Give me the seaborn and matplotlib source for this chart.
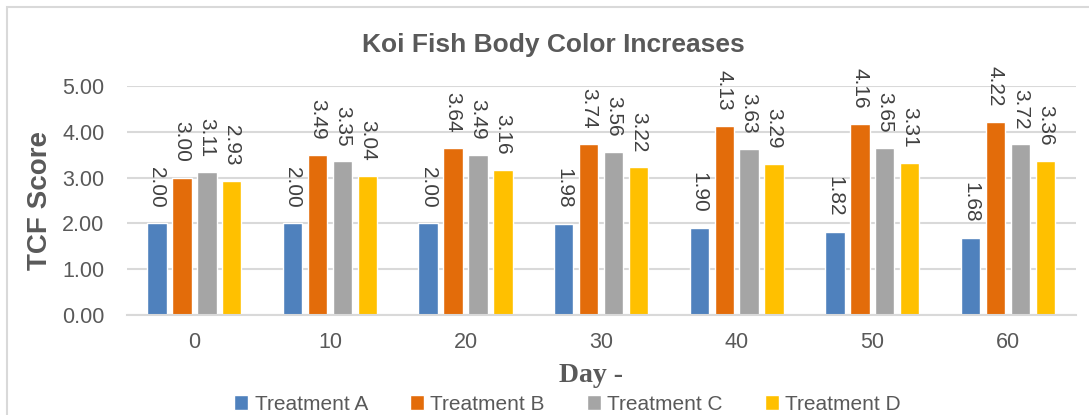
import matplotlib
matplotlib.use("Agg")
import matplotlib.pyplot as plt
from matplotlib.patches import Rectangle
import seaborn as sns
import pandas as pd

# chart data
days = ["0", "10", "20", "30", "40", "50", "60"]
treatments = ["Treatment A", "Treatment B", "Treatment C", "Treatment D"]
treatment_a = [2.00, 2.00, 2.00, 1.98, 1.90, 1.82, 1.68]
treatment_b = [3.00, 3.49, 3.64, 3.74, 4.13, 4.16, 4.22]
treatment_c = [3.11, 3.35, 3.49, 3.56, 3.63, 3.65, 3.72]
treatment_d = [2.93, 3.04, 3.16, 3.22, 3.29, 3.31, 3.36]
colors = ["#4F81BD", "#E36C0A", "#A5A5A5", "#FFC000"]

rows = []
for name, vals in zip(treatments, [treatment_a, treatment_b, treatment_c, treatment_d]):
    for d, v in zip(days, vals):
        rows.append({"Day": d, "Treatment": name, "TCF": v})
df = pd.DataFrame(rows)

sns.set_style("white")
plt.rcParams['font.family'] = ['Liberation Sans', 'DejaVu Sans']
text_grey = "#595959"
grid_grey = "#D9D9D9"

fig = plt.figure(figsize=(10.89, 4.15), dpi=100)
ax = fig.add_axes([0.1162, 0.2402, 0.8716, 0.5533])

sns.barplot(data=df, x="Day", y="TCF", hue="Treatment", order=days, hue_order=treatments,
            palette=colors, width=0.735, gap=0.22, saturation=1, ax=ax, legend=True)

for cont in ax.containers:
    ax.bar_label(cont, fmt="%.2f", rotation=-90, padding=11, fontsize=15,
                 color="#404040", clip_on=False)

ax.set_ylim(0, 5)
ax.set_yticks([0, 1, 2, 3, 4, 5])
ax.set_yticklabels([f"{t:.2f}" for t in [0, 1, 2, 3, 4, 5]])
ax.yaxis.grid(True, color=grid_grey, lw=1.5)
ax.set_axisbelow(True)
for side in ["left", "right", "top"]:
    ax.spines[side].set_visible(False)
ax.spines["bottom"].set_color(grid_grey)
ax.spines["bottom"].set_linewidth(1.5)
ax.tick_params(axis="y", length=0, pad=16, labelsize=15.5, labelcolor=text_grey)
ax.tick_params(axis="x", length=0, pad=12, labelsize=15.5, labelcolor=text_grey)

ax.set_xlabel("")
ax.set_ylabel("TCF Score", fontsize=20, fontweight="bold", color=text_grey)
ax.yaxis.set_label_coords(-0.078, 0.5)

fig.text(553 / 1089, 1 - 45 / 415, "Koi Fish Body Color Increases", ha="center", va="center",
         fontsize=19, fontweight="bold", color=text_grey)
fig.text(591 / 1089, 1 - 375 / 415, "Day -", ha="center", va="center", fontsize=20,
         fontweight="bold", color=text_grey, family="Liberation Serif")

handles, labels = ax.get_legend_handles_labels()
ax.get_legend().remove()
fig.legend(handles, labels, loc="center", bbox_to_anchor=(0.521, 1 - 404 / 415), ncol=4,
           frameon=False, fontsize=15, handlelength=0.7, handleheight=0.7,
           handletextpad=0.3, columnspacing=2.0, labelcolor=text_grey)

fig.patches.append(Rectangle((7 / 1089, -0.1), 1.2, 0.1 + 1 - 7 / 415, transform=fig.transFigure,
                             fill=False, edgecolor=grid_grey, lw=1.5))

fig.savefig("out.png", dpi=100)
